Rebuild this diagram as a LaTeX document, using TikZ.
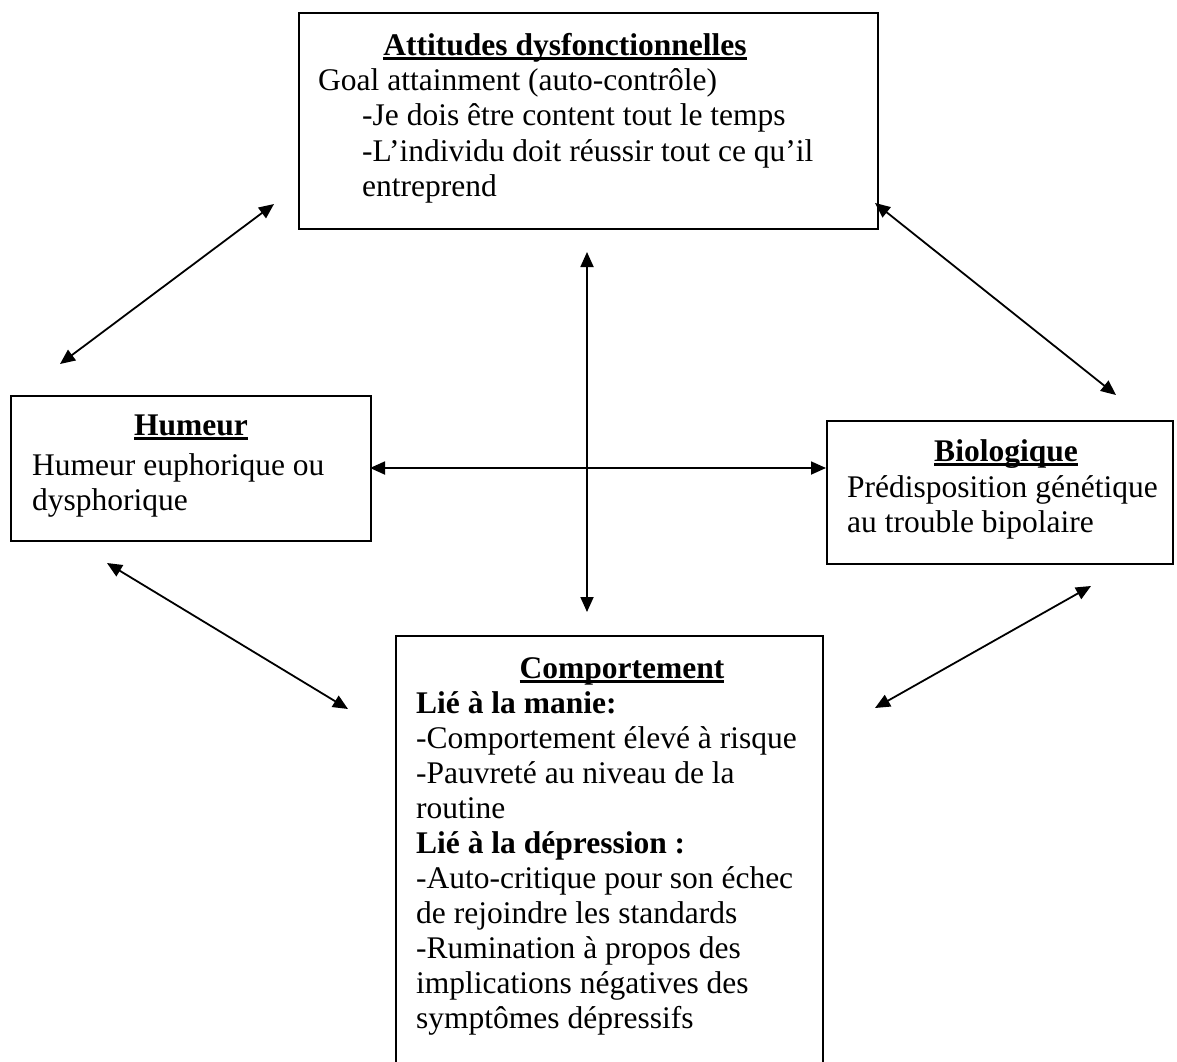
\documentclass[tikz,border=0pt]{standalone}
\usepackage{fontspec}
\setmainfont{Liberation Serif}
\usetikzlibrary{arrows.meta}
\newcommand\myul[1]{\setbox0\hbox{#1}\rlap{\rule[-4.5pt]{\wd0}{2.6pt}}\box0}
\begin{document}
\begin{tikzpicture}[x=1pt,y=-1pt,
  box/.style={draw=black, line width=1.8pt, anchor=north west, inner sep=0pt},
  ttl/.style={anchor=base, inner sep=0pt, font=\fontsize{31.5}{35}\selectfont\bfseries},
  body/.style={anchor=north west, inner sep=0pt, align=left, font=\fontsize{31.5}{35}\selectfont},
  link/.style={line width=1.8pt, {Triangle[length=15pt,width=13pt]}-{Triangle[length=15pt,width=13pt]}}]
\useasboundingbox (0,0) rectangle (1177,1061);
\clip (0,0) rectangle (1177,1061);
% boxes
\node[box, minimum width=579pt, minimum height=216pt] (att) at (298,12) {};
\node[box, minimum width=360pt, minimum height=145pt] (hum) at (10,395) {};
\node[box, minimum width=346pt, minimum height=143pt] (bio) at (826,420) {};
\node[box, minimum width=427pt, minimum height=460pt] (comp) at (395,635) {};
% titles
\node[ttl] (att-t) at (565,55) {\myul{Attitudes dysfonctionnelles}};
\node[ttl] (hum-t) at (191,435) {\myul{Humeur}};
\node[ttl] (bio-t) at (1006,461) {\myul{Biologique}};
\node[ttl] (comp-t) at (622,678) {\myul{Comportement}};
% bodies (top = first baseline - 0.7 baselineskip)
\node[body, font=\fontsize{31.5}{35.5}\selectfont] (att-b) at (318,65.15) {\strut Goal attainment (auto-contrôle)\\
\hspace*{44pt}-Je dois être content tout le temps\\
\hspace*{44pt}-L’individu doit réussir tout ce qu’il\\
\hspace*{44pt}entreprend};
\node[body] (hum-b) at (32,450.5) {\strut Humeur euphorique ou\\dysphorique};
\node[body] (bio-b) at (847,472.5) {\strut Prédisposition génétique\\au trouble bipolaire};
\node[body] (comp-b) at (416,688.5) {\strut\textbf{Lié à la manie:}\\
-Comportement élevé à risque\\
-Pauvreté au niveau de la\\
routine\\
\textbf{Lié à la dépression :}\\
-Auto-critique pour son échec\\
de rejoindre les standards\\
-Rumination à propos des\\
implications négatives des\\
symptômes dépressifs};
% arrow end points
\coordinate (a1) at (60,364);
\coordinate (a2) at (274,204);
\coordinate (b1) at (875,203);
\coordinate (b2) at (1116,395);
\coordinate (c1) at (107,563);
\coordinate (c2) at (348,709);
\coordinate (d1) at (1091,586);
\coordinate (d2) at (875,708);
\coordinate (v1) at (587,252);
\coordinate (v2) at (587,612);
\coordinate (h1) at (370,468);
\coordinate (h2) at (826,468);
\draw[link] (a1) -- (a2);
\draw[link] (b1) -- (b2);
\draw[link] (c1) -- (c2);
\draw[link] (d1) -- (d2);
\draw[link] (v1) -- (v2);
\draw[link] (h1) -- (h2);
\end{tikzpicture}
\end{document}
